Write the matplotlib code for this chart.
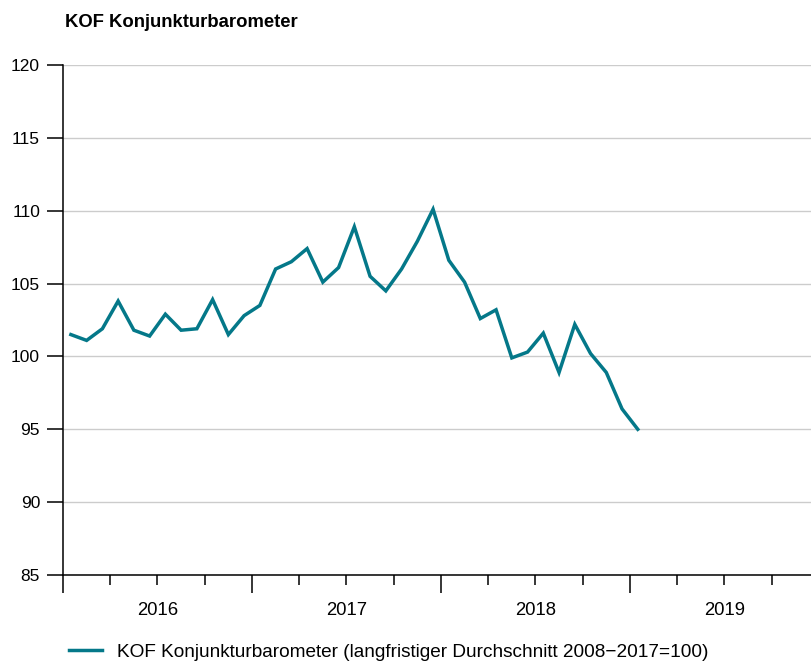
import matplotlib.pyplot as plt
import numpy as np

plt.rcParams['font.family'] = ['Liberation Sans', 'DejaVu Sans']

# KOF Konjunkturbarometer, monthly Jan 2016 - Jan 2019
values = [101.5, 101.1, 101.9, 103.8, 101.8, 101.4, 102.9, 101.8, 101.9, 103.9, 101.5, 102.8,
          103.5, 106.0, 106.5, 107.4, 105.1, 106.1, 108.9, 105.5, 104.5, 106.0, 107.9, 110.1,
          106.6, 105.1, 102.6, 103.2, 99.9, 100.3, 101.6, 98.9, 102.2, 100.2, 98.9, 96.4,
          95.0]
years = ['2016', '2017', '2018', '2019']
yticks = [85, 90, 95, 100, 105, 110, 115, 120]
label = 'KOF Konjunkturbarometer (langfristiger Durchschnitt 2008\u22122017=100)'
color = '#047889'

months = np.arange(len(values)) + 0.5

fig = plt.figure(figsize=(8.11, 6.62), dpi=100)
ax = fig.add_axes([0.0777, 0.1314, 0.9223, 0.7704])

line, = ax.plot(months, values, color=color, lw=2.5, solid_joinstyle='miter')

ax.set_xlim(0, 47.5)
ax.set_ylim(85, 120)
ax.set_yticks(yticks)
ax.yaxis.grid(True, color='#cccccc', lw=1)
ax.set_axisbelow(True)
for s in ['top', 'right']:
	ax.spines[s].set_visible(False)
ax.spines['left'].set_linewidth(1.1)
ax.spines['bottom'].set_linewidth(1.1)

ax.set_xticks(np.arange(0, 48, 12))
ax.set_xticks(np.arange(0, 48, 3), minor=True)
ax.tick_params(axis='x', which='major', length=13, width=1.1, labelbottom=False)
ax.tick_params(axis='x', which='minor', length=7, width=1.1)
ax.tick_params(axis='y', length=11.5, width=1.1, labelsize=12.5, pad=5)

for i, y in enumerate(years):
	ax.text(6 + 12 * i, -0.069, y, transform=ax.get_xaxis_transform(),
			ha='center', va='center', fontsize=13.3)

fig.text(0.08, 0.966, 'KOF Konjunkturbarometer', fontsize=13.3, fontweight='bold',
		 ha='left', va='center')

fig.legend([line], [label], loc='center left', bbox_to_anchor=(0.085, 0.015),
		   frameon=False, fontsize=13.7, handlelength=1.75, handletextpad=0.8,
		   borderaxespad=0, borderpad=0)

fig.savefig('out.png', dpi=100)
